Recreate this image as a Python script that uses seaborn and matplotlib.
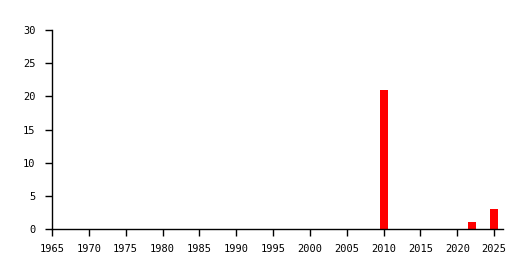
import matplotlib
matplotlib.use("Agg")
import matplotlib.pyplot as plt
import seaborn as sns
import pandas as pd

years = [2010, 2022, 2025]
counts = [21, 1, 3]
xticks = list(range(1965, 2030, 5))
yticks = [0, 5, 10, 15, 20, 25, 30]

sns.set_style("ticks")
plt.rcParams['font.family'] = ['DejaVu Sans Mono']

df = pd.DataFrame({"year": years, "count": counts})

fig = plt.figure(figsize=(5.3, 2.7), dpi=100)
ax = fig.add_axes([52/530, 1-229/270, (503-52)/530, (229-30)/270])
sns.barplot(data=df, x="year", y="count", native_scale=True, width=0.37,
            color="#ff0000", saturation=1, ax=ax, edgecolor="none", linewidth=0)
ax.set_xlim(1965, 2026.2)
ax.set_ylim(0, 30)
ax.set_xticks(xticks)
ax.set_xticklabels([str(t) for t in xticks])
ax.set_yticks(yticks)
ax.set_xlabel("")
ax.set_ylabel("")
for s in ["top", "right"]:
    ax.spines[s].set_visible(False)
for s in ["left", "bottom"]:
    ax.spines[s].set_color("black")
    ax.spines[s].set_linewidth(1)
ax.tick_params(axis="both", which="major", bottom=True, left=True, length=5,
               width=1, color="black", labelsize=7.5, labelcolor="black",
               direction="out")
ax.tick_params(axis="x", pad=6)
ax.tick_params(axis="y", pad=7)
ax.grid(False)
fig.savefig("out.png", dpi=100)
